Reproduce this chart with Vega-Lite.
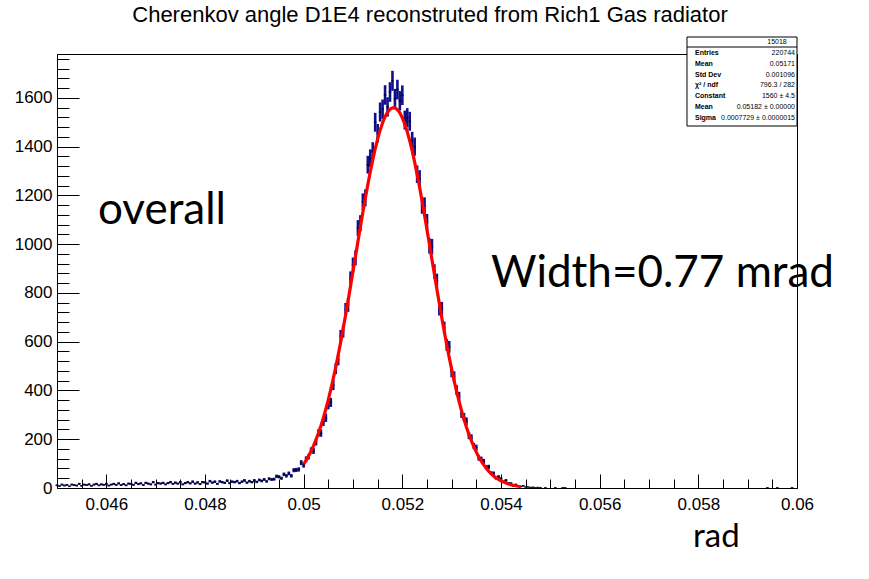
{
  "$schema": "https://vega.github.io/schema/vega-lite/v6.json",
  "width": 740,
  "height": 434,
  "autosize": "none",
  "padding": {"left": 57, "top": 54, "right": 72, "bottom": 91},
  "background": "white",
  "config": {"view": {"stroke": "#000", "strokeWidth": 1}},
  "datasets": {
    "hist": [
      {"x":0.045,"n":11,"e":3.3},{"x":0.04505,"n":8,"e":2.8},{"x":0.0451,"n":14,"e":3.7},{"x":0.04515,"n":10,"e":3.2},{"x":0.0452,"n":13,"e":3.6},{"x":0.04525,"n":7,"e":2.6},{"x":0.0453,"n":14,"e":3.7},{"x":0.04535,"n":12,"e":3.5},{"x":0.0454,"n":10,"e":3.2},{"x":0.04545,"n":17,"e":4.1},
      {"x":0.0455,"n":9,"e":3},{"x":0.04555,"n":14,"e":3.7},{"x":0.0456,"n":12,"e":3.5},{"x":0.04565,"n":15,"e":3.9},{"x":0.0457,"n":9,"e":3},{"x":0.04575,"n":14,"e":3.7},{"x":0.0458,"n":17,"e":4.1},{"x":0.04585,"n":11,"e":3.3},{"x":0.0459,"n":15,"e":3.9},{"x":0.04595,"n":13,"e":3.6},
      {"x":0.046,"n":17,"e":4.1},{"x":0.04605,"n":10,"e":3.2},{"x":0.0461,"n":14,"e":3.7},{"x":0.04615,"n":17,"e":4.1},{"x":0.0462,"n":13,"e":3.6},{"x":0.04625,"n":19,"e":4.4},{"x":0.0463,"n":12,"e":3.5},{"x":0.04635,"n":16,"e":4},{"x":0.0464,"n":11,"e":3.3},{"x":0.04645,"n":18,"e":4.2},
      {"x":0.0465,"n":17,"e":4.1},{"x":0.04655,"n":13,"e":3.6},{"x":0.0466,"n":21,"e":4.6},{"x":0.04665,"n":16,"e":4},{"x":0.0467,"n":19,"e":4.4},{"x":0.04675,"n":12,"e":3.5},{"x":0.0468,"n":21,"e":4.6},{"x":0.04685,"n":18,"e":4.2},{"x":0.0469,"n":15,"e":3.9},{"x":0.04695,"n":24,"e":4.9},
      {"x":0.047,"n":14,"e":3.7},{"x":0.04705,"n":20,"e":4.5},{"x":0.0471,"n":18,"e":4.2},{"x":0.04715,"n":21,"e":4.6},{"x":0.0472,"n":15,"e":3.9},{"x":0.04725,"n":20,"e":4.5},{"x":0.0473,"n":24,"e":4.9},{"x":0.04735,"n":17,"e":4.1},{"x":0.0474,"n":22,"e":4.7},{"x":0.04745,"n":18,"e":4.2},
      {"x":0.0475,"n":24,"e":4.9},{"x":0.04755,"n":15,"e":3.9},{"x":0.0476,"n":20,"e":4.5},{"x":0.04765,"n":24,"e":4.9},{"x":0.0477,"n":19,"e":4.4},{"x":0.04775,"n":26,"e":5.1},{"x":0.0478,"n":18,"e":4.2},{"x":0.04785,"n":23,"e":4.8},{"x":0.0479,"n":16,"e":4},{"x":0.04795,"n":24,"e":4.9},
      {"x":0.048,"n":23,"e":4.8},{"x":0.04805,"n":18,"e":4.2},{"x":0.0481,"n":28,"e":5.3},{"x":0.04815,"n":22,"e":4.7},{"x":0.0482,"n":26,"e":5.1},{"x":0.04825,"n":17,"e":4.1},{"x":0.0483,"n":27,"e":5.2},{"x":0.04835,"n":24,"e":4.9},{"x":0.0484,"n":21,"e":4.6},{"x":0.04845,"n":30,"e":5.5},
      {"x":0.0485,"n":20,"e":4.5},{"x":0.04855,"n":26,"e":5.1},{"x":0.0486,"n":24,"e":4.9},{"x":0.04865,"n":28,"e":5.3},{"x":0.0487,"n":20,"e":4.5},{"x":0.04875,"n":26,"e":5.1},{"x":0.0488,"n":31,"e":5.6},{"x":0.04885,"n":22,"e":4.7},{"x":0.0489,"n":28,"e":5.3},{"x":0.04895,"n":24,"e":4.9},
      {"x":0.049,"n":31,"e":5.6},{"x":0.04905,"n":25,"e":5},{"x":0.0491,"n":33,"e":5.7},{"x":0.04915,"n":29,"e":5.4},{"x":0.0492,"n":35,"e":5.9},{"x":0.04925,"n":27,"e":5.2},{"x":0.0493,"n":38,"e":6.2},{"x":0.04935,"n":35,"e":5.9},{"x":0.0494,"n":36,"e":6},{"x":0.04945,"n":48,"e":6.9},
      {"x":0.0495,"n":46,"e":6.8},{"x":0.04955,"n":40,"e":6.3},{"x":0.0496,"n":56,"e":7.5},{"x":0.04965,"n":50,"e":7.1},{"x":0.0497,"n":60,"e":7.7},{"x":0.04975,"n":50,"e":7.1},{"x":0.0498,"n":73,"e":8.5},{"x":0.04985,"n":74,"e":8.6},{"x":0.0499,"n":76,"e":8.7},{"x":0.04995,"n":104,"e":10.2},
      {"x":0.05,"n":93,"e":9.6},{"x":0.05005,"n":119,"e":10.9},{"x":0.0501,"n":128,"e":11.3},{"x":0.05015,"n":154,"e":12.4},{"x":0.0502,"n":152,"e":12.3},{"x":0.05025,"n":188,"e":13.7},{"x":0.0503,"n":226,"e":15},{"x":0.05035,"n":225,"e":15},{"x":0.0504,"n":271,"e":16.5},{"x":0.05045,"n":288,"e":17},
      {"x":0.0505,"n":341,"e":18.5},{"x":0.05055,"n":351,"e":18.7},{"x":0.0506,"n":422,"e":20.5},{"x":0.05065,"n":489,"e":22.1},{"x":0.0507,"n":526,"e":22.9},{"x":0.05075,"n":623,"e":25},{"x":0.0508,"n":642,"e":25.3},{"x":0.05085,"n":732,"e":27.1},{"x":0.0509,"n":750,"e":27.4},{"x":0.05095,"n":859,"e":29.3},
      {"x":0.051,"n":915,"e":30.2},{"x":0.05105,"n":944,"e":30.7},{"x":0.0511,"n":1066,"e":32.6},{"x":0.05115,"n":1086,"e":33},{"x":0.0512,"n":1174,"e":34.3},{"x":0.05125,"n":1190,"e":34.5},{"x":0.0513,"n":1326,"e":36.4},{"x":0.05135,"n":1352,"e":36.8},{"x":0.0514,"n":1381,"e":37.2},{"x":0.05145,"n":1500,"e":38.7},
      {"x":0.0515,"n":1455,"e":38.1},{"x":0.05155,"n":1542,"e":39.3},{"x":0.0516,"n":1554,"e":39.4},{"x":0.05165,"n":1612,"e":40.1},{"x":0.0517,"n":1563,"e":39.5},{"x":0.05175,"n":1624,"e":40.3},{"x":0.0518,"n":1670,"e":40.9},{"x":0.05185,"n":1597,"e":40},{"x":0.0519,"n":1634,"e":40.4},{"x":0.05195,"n":1588,"e":39.8},
      {"x":0.052,"n":1611,"e":40.1},{"x":0.05205,"n":1509,"e":38.8},{"x":0.0521,"n":1519,"e":39},{"x":0.05215,"n":1504,"e":38.8},{"x":0.0522,"n":1423,"e":37.7},{"x":0.05225,"n":1400,"e":37.4},{"x":0.0523,"n":1287,"e":35.9},{"x":0.05235,"n":1268,"e":35.6},{"x":0.0524,"n":1159,"e":34},{"x":0.05245,"n":1158,"e":34},
      {"x":0.0525,"n":1091,"e":33},{"x":0.05255,"n":993,"e":31.5},{"x":0.0526,"n":990,"e":31.5},{"x":0.05265,"n":888,"e":29.8},{"x":0.0527,"n":850,"e":29.2},{"x":0.05275,"n":735,"e":27.1},{"x":0.0528,"n":736,"e":27.1},{"x":0.05285,"n":657,"e":25.6},{"x":0.0529,"n":587,"e":24.2},{"x":0.05295,"n":579,"e":24.1},
      {"x":0.053,"n":476,"e":21.8},{"x":0.05305,"n":457,"e":21.4},{"x":0.0531,"n":402,"e":20},{"x":0.05315,"n":375,"e":19.4},{"x":0.0532,"n":305,"e":17.5},{"x":0.05325,"n":291,"e":17.1},{"x":0.0533,"n":273,"e":16.5},{"x":0.05335,"n":215,"e":14.7},{"x":0.0534,"n":206,"e":14.4},{"x":0.05345,"n":172,"e":13.1},
      {"x":0.0535,"n":165,"e":12.8},{"x":0.05355,"n":123,"e":11.1},{"x":0.0536,"n":118,"e":10.9},{"x":0.05365,"n":109,"e":10.4},{"x":0.0537,"n":85,"e":9.2},{"x":0.05375,"n":86,"e":9.3},{"x":0.0538,"n":61,"e":7.8},{"x":0.05385,"n":60,"e":7.7},{"x":0.0539,"n":41,"e":6.4},{"x":0.05395,"n":46,"e":6.8},
      {"x":0.054,"n":38,"e":6.2},{"x":0.05405,"n":26,"e":5.1},{"x":0.0541,"n":31,"e":5.6},{"x":0.05415,"n":20,"e":4.5},{"x":0.0542,"n":19,"e":4.4},{"x":0.05425,"n":9,"e":3},{"x":0.0543,"n":14,"e":3.7},{"x":0.05435,"n":9,"e":3},{"x":0.0544,"n":6,"e":2.4},{"x":0.05445,"n":9,"e":3},
      {"x":0.0545,"n":4,"e":2},{"x":0.05455,"n":4,"e":2},{"x":0.0546,"n":2,"e":1.4},{"x":0.05465,"n":3,"e":1.7},{"x":0.0547,"n":1,"e":1},{"x":0.05475,"n":2,"e":1.4},{"x":0.0548,"n":1,"e":1},{"x":0.0549,"n":1,"e":1},{"x":0.0551,"n":1,"e":1},{"x":0.05525,"n":1,"e":1},
      {"x":0.0553,"n":1,"e":1},{"x":0.0594,"n":1,"e":1},{"x":0.0596,"n":1,"e":1},{"x":0.0599,"n":1,"e":1}
    ],
    "fit": [
      {"x":0.05,"f":97.5},{"x":0.05005,"f":113.3},{"x":0.0501,"f":131.1},{"x":0.05015,"f":151.2},{"x":0.0502,"f":173.5},{"x":0.05025,"f":198.3},{"x":0.0503,"f":225.6},{"x":0.05035,"f":255.7},{"x":0.0504,"f":288.5},{"x":0.05045,"f":324.2},
      {"x":0.0505,"f":362.8},{"x":0.05055,"f":404.4},{"x":0.0506,"f":448.8},{"x":0.05065,"f":496.1},{"x":0.0507,"f":546},{"x":0.05075,"f":598.4},{"x":0.0508,"f":653},{"x":0.05085,"f":709.8},{"x":0.0509,"f":768.1},{"x":0.05095,"f":827.9},
      {"x":0.051,"f":888.6},{"x":0.05105,"f":949.7},{"x":0.0511,"f":1010.9},{"x":0.05115,"f":1071.4},{"x":0.0512,"f":1130.8},{"x":0.05125,"f":1188.6},{"x":0.0513,"f":1244},{"x":0.05135,"f":1296.7},{"x":0.0514,"f":1346},{"x":0.05145,"f":1391.1},
      {"x":0.0515,"f":1431.9},{"x":0.05155,"f":1467.6},{"x":0.0516,"f":1498.1},{"x":0.05165,"f":1522.7},{"x":0.0517,"f":1541.3},{"x":0.05175,"f":1553.6},{"x":0.0518,"f":1559.5},{"x":0.05185,"f":1558.8},{"x":0.0519,"f":1551.7},{"x":0.05195,"f":1538.2},
      {"x":0.052,"f":1518.2},{"x":0.05205,"f":1492.5},{"x":0.0521,"f":1461},{"x":0.05215,"f":1424.1},{"x":0.0522,"f":1382.5},{"x":0.05225,"f":1336.3},{"x":0.0523,"f":1286.4},{"x":0.05235,"f":1233.2},{"x":0.0524,"f":1177.2},{"x":0.05245,"f":1119},
      {"x":0.0525,"f":1059.4},{"x":0.05255,"f":998.7},{"x":0.0526,"f":937.6},{"x":0.05265,"f":876.4},{"x":0.0527,"f":815.9},{"x":0.05275,"f":756.4},{"x":0.0528,"f":698.3},{"x":0.05285,"f":641.9},{"x":0.0529,"f":587.7},{"x":0.05295,"f":535.7},
      {"x":0.053,"f":486.4},{"x":0.05305,"f":439.8},{"x":0.0531,"f":395.9},{"x":0.05315,"f":354.9},{"x":0.0532,"f":316.8},{"x":0.05325,"f":281.7},{"x":0.0533,"f":249.4},{"x":0.05335,"f":219.9},{"x":0.0534,"f":193},{"x":0.05345,"f":168.8},
      {"x":0.0535,"f":147},{"x":0.05355,"f":127.4},{"x":0.0536,"f":110},{"x":0.05365,"f":94.6},{"x":0.0537,"f":81},{"x":0.05375,"f":69},{"x":0.0538,"f":58.6},{"x":0.05385,"f":49.6},{"x":0.0539,"f":41.7},{"x":0.05395,"f":35},
      {"x":0.054,"f":29.2},{"x":0.05405,"f":24.3},{"x":0.0541,"f":20.1},{"x":0.05415,"f":16.6},{"x":0.0542,"f":13.6},{"x":0.05425,"f":11.1},{"x":0.0543,"f":9.1},{"x":0.05435,"f":7.3},{"x":0.0544,"f":5.9}
    ]
  },
  "layer": [
    {
      "data": {"name": "hist"},
      "mark": {"type": "errorbar", "ticks": false, "color": "#10108c", "thickness": 2.6},
      "encoding": {
        "x": {"field": "x", "type": "quantitative",
          "scale": {"domain": [0.045, 0.06], "nice": false, "zero": false},
          "axis": {
            "title": null, "grid": false, "tickCount": 200,
            "values": [0.045,0.0455,0.046,0.0465,0.047,0.0475,0.048,0.0485,0.049,0.0495,0.05,0.0505,0.051,0.0515,0.052,0.0525,0.053,0.0535,0.054,0.0545,0.055,0.0555,0.056,0.0565,0.057,0.0575,0.058,0.0585,0.059,0.0595,0.06],
            "format": "~g",
            "labelExpr": "abs(datum.value/0.002 - round(datum.value/0.002)) < 0.001 ? datum.label : ''",
            "tickSize": {"condition": {"test": "abs(datum.value/0.002 - round(datum.value/0.002)) < 0.001", "value": -14}, "value": -9},
            "tickColor": "#000", "tickWidth": 1, "domainColor": "#000", "domainWidth": 1,
            "labelFont": "Liberation Sans", "labelFontSize": 17, "labelColor": "#000",
            "labelPadding": 22, "labelOverlap": false, "labelFlush": false, "labelBound": false
          }
        },
        "y": {"field": "n", "type": "quantitative",
          "scale": {"domain": [0, 1780], "nice": false},
          "axis": {
            "title": null, "grid": false, "tickCount": 200,
            "values": [0,40,80,120,160,200,240,280,320,360,400,440,480,520,560,600,640,680,720,760,800,840,880,920,960,1000,1040,1080,1120,1160,1200,1240,1280,1320,1360,1400,1440,1480,1520,1560,1600,1640,1680,1720,1760],
            "format": "d",
            "labelExpr": "datum.value % 200 == 0 ? datum.label : ''",
            "tickSize": {"condition": {"test": "datum.value % 200 == 0", "value": -22}, "value": -12},
            "tickColor": "#000", "tickWidth": 1, "domainColor": "#000", "domainWidth": 1,
            "labelFont": "Liberation Sans", "labelFontSize": 17, "labelColor": "#000",
            "labelPadding": 27, "labelOverlap": false, "labelFlush": false, "labelBound": false
          }
        },
        "yError": {"field": "e"}
      }
    },
    {
      "data": {"name": "hist"},
      "mark": {"type": "tick", "orient": "horizontal", "size": 2.6, "thickness": 1.6, "color": "#000"},
      "encoding": {
        "x": {"field": "x", "type": "quantitative"},
        "y": {"field": "n", "type": "quantitative"}
      }
    },
    {
      "data": {"name": "fit"},
      "mark": {"type": "line", "color": "#ff0000", "strokeWidth": 3.2},
      "encoding": {
        "x": {"field": "x", "type": "quantitative"},
        "y": {"field": "f", "type": "quantitative"}
      }
    },
    {
      "data": {"values": [{}]},
      "mark": {"type": "text", "text": "Cherenkov angle D1E4 reconstruted from Rich1 Gas radiator", "font": "Liberation Sans", "fontSize": 22, "align": "center", "baseline": "alphabetic", "color": "#000"},
      "encoding": {
        "x": {"datum": 0.052561, "type": "quantitative"},
        "y": {"datum": 1911, "type": "quantitative"}
      }
    },
    {
      "data": {"values": [{}]},
      "mark": {"type": "rect", "fill": "white", "stroke": "#000", "strokeWidth": 1},
      "encoding": {
        "x": {"datum": 0.05777, "type": "quantitative"},
        "x2": {"datum": 0.06},
        "y": {"datum": 1849.7, "type": "quantitative"},
        "y2": {"datum": 1484.7}
      }
    },
    {
      "data": {"values": [{}]},
      "mark": {"type": "rule", "stroke": "#000", "strokeWidth": 1},
      "encoding": {
        "x": {"datum": 0.05777, "type": "quantitative"},
        "x2": {"datum": 0.06},
        "y": {"datum": 1808.7, "type": "quantitative"}
      }
    },
    {
      "data": {"values": [{}]},
      "mark": {"type": "text", "text": "15018", "font": "Liberation Sans", "fontSize": 7, "align": "center", "baseline": "middle", "color": "#000"},
      "encoding": {
        "x": {"datum": 0.059595, "type": "quantitative"},
        "y": {"datum": 1829.2, "type": "quantitative"}
      }
    },
    {
      "data": {"values": [{}]},
      "mark": {"type": "text", "text": ["Entries", "Mean", "Std Dev", "χ² / ndf", "Constant", "Mean", "Sigma"], "font": "Liberation Sans", "fontSize": 7, "fontWeight": "bold", "lineHeight": 10.8, "align": "left", "baseline": "top", "color": "#000"},
      "encoding": {
        "x": {"datum": 0.057932, "type": "quantitative"},
        "y": {"datum": 1800.5, "type": "quantitative"}
      }
    },
    {
      "data": {"values": [{}]},
      "mark": {"type": "text", "text": ["220744", "0.05171", "0.001096", "796.3 / 282", "1560 ± 4.5", "0.05182 ± 0.00000", "0.0007729 ± 0.0000015"], "font": "Liberation Sans", "fontSize": 7, "lineHeight": 10.8, "align": "right", "baseline": "top", "color": "#000"},
      "encoding": {
        "x": {"datum": 0.059959, "type": "quantitative"},
        "y": {"datum": 1800.5, "type": "quantitative"}
      }
    },
    {
      "data": {"values": [{}]},
      "mark": {"type": "text", "text": "overall", "font": "Lato", "fontSize": 44, "align": "left", "baseline": "alphabetic", "color": "#000"},
      "encoding": {
        "x": {"datum": 0.045831, "type": "quantitative"},
        "y": {"datum": 1082.8, "type": "quantitative"}
      }
    },
    {
      "data": {"values": [{}]},
      "mark": {"type": "text", "text": "Width=0.77 mrad", "font": "Lato", "fontSize": 44, "align": "left", "baseline": "alphabetic", "color": "#000"},
      "encoding": {
        "x": {"datum": 0.053797, "type": "quantitative"},
        "y": {"datum": 824.4, "type": "quantitative"}
      }
    },
    {
      "data": {"values": [{}]},
      "mark": {"type": "text", "text": "rad", "font": "Lato", "fontSize": 33, "align": "left", "baseline": "alphabetic", "color": "#000"},
      "encoding": {
        "x": {"datum": 0.057892, "type": "quantitative"},
        "y": {"datum": -242, "type": "quantitative"}
      }
    }
  ]
}
